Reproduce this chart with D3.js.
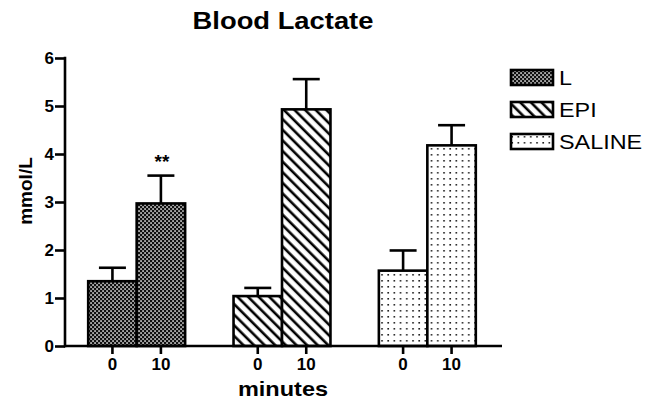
<!DOCTYPE html>
<html><head><meta charset="utf-8">
<script src="https://cdn.jsdelivr.net/npm/d3@7"></script>
<style>
body{margin:0;background:#fff;}
text{font-family:"Liberation Sans",Arial,sans-serif;fill:#000;}
</style></head>
<body>
<svg id="c" width="645" height="400"></svg>
<script>
const groups = ["L", "EPI", "SALINE"];
const times = ["0", "10"];
const means = {L: [1.35, 2.97], EPI: [1.04, 4.93], SALINE: [1.57, 4.18]};
const errs  = {L: [0.28, 0.58], EPI: [0.17, 0.63], SALINE: [0.42, 0.42]};
const yTicks = [0, 1, 2, 3, 4, 5, 6];
const sig = {group: "L", time: "10", label: "**"};

const svg = d3.select("#c");
const defs = svg.append("defs");

// patterns
const pL = defs.append("pattern").attr("id","pL").attr("patternUnits","userSpaceOnUse").attr("width",4).attr("height",4);
pL.append("rect").attr("width",4).attr("height",4).attr("fill","#111");
pL.append("rect").attr("x",0.3).attr("y",0.3).attr("width",1.5).attr("height",1.5).attr("fill","#fff");
pL.append("rect").attr("x",2.3).attr("y",2.3).attr("width",1.5).attr("height",1.5).attr("fill","#fff");

const pE = defs.append("pattern").attr("id","pEPI").attr("patternUnits","userSpaceOnUse").attr("width",7.5).attr("height",10).attr("patternTransform","rotate(-45)");
pE.append("rect").attr("width",7.5).attr("height",10).attr("fill","#fff");
pE.append("line").attr("x1",3).attr("x2",3).attr("y1",0).attr("y2",10).attr("stroke","#000").attr("stroke-width",2.6);

const pS = defs.append("pattern").attr("id","pSALINE").attr("patternUnits","userSpaceOnUse").attr("width",6.2).attr("height",6).attr("x",1).attr("y",2);
pS.append("rect").attr("width",6.2).attr("height",6).attr("fill","#fff");
pS.append("rect").attr("x",2).attr("y",2).attr("width",1.6).attr("height",1.6).attr("fill","#222");

const fillOf = {L:"url(#pL)", EPI:"url(#pEPI)", SALINE:"url(#pSALINE)"};

const y = d3.scaleLinear().domain([0, 6]).range([346, 58]);
const x0 = d3.scaleBand().domain(groups).range([64, 500]).paddingInner(0.333).paddingOuter(0.1665);
const x1 = d3.scaleBand().domain(times).range([0, x0.bandwidth()]);

// bars
const g = svg.append("g");
groups.forEach(gr => {
  times.forEach((t, i) => {
    const bx = x0(gr) + x1(t);
    const v = means[gr][i], e = errs[gr][i];
    const cx = bx + x1.bandwidth() / 2;
    g.append("line").attr("x1",cx).attr("x2",cx).attr("y1",y(v)).attr("y2",y(v+e)).attr("stroke","#000").attr("stroke-width",2.6);
    g.append("line").attr("x1",cx-13.5).attr("x2",cx+13.5).attr("y1",y(v+e)).attr("y2",y(v+e)).attr("stroke","#000").attr("stroke-width",2.6);
    g.append("rect").attr("x",bx).attr("y",y(v)).attr("width",x1.bandwidth()).attr("height",y(0)-y(v))
      .attr("fill",fillOf[gr]).attr("stroke","#000").attr("stroke-width",2.6);
    g.append("line").attr("x1",cx).attr("x2",cx).attr("y1",y(0)).attr("y2",y(0)+8).attr("stroke","#000").attr("stroke-width",2.6);
    g.append("text").attr("x",cx).attr("y",y(0)+24).attr("text-anchor","middle")
      .style("font-weight","bold").style("font-size","17px").text(t);
    if (gr === sig.group && t === sig.time) {
      g.append("text").attr("x",cx+1).attr("y",y(v+e)-8).attr("text-anchor","middle")
        .style("font-weight","bold").style("font-size","19px").text(sig.label);
    }
  });
});

// y axis
const yAxis = d3.axisLeft(y).tickValues(yTicks).tickSize(10).tickPadding(1).tickFormat(d3.format("d"));
const ya = svg.append("g").attr("transform","translate(65,0)").call(yAxis);
ya.select(".domain").remove();
ya.selectAll(".tick line").attr("stroke","#000").attr("stroke-width",2.6);
ya.selectAll(".tick text").style("font-size","17px").style("font-weight","bold").style("font-family","'Liberation Sans',Arial,sans-serif").attr("fill","#000");
svg.append("line").attr("x1",65).attr("x2",65).attr("y1",y(6)-1.3).attr("y2",y(0)+1.3).attr("stroke","#000").attr("stroke-width",2.6);
svg.append("line").attr("x1",64).attr("x2",502).attr("y1",y(0)).attr("y2",y(0)).attr("stroke","#000").attr("stroke-width",2.6);

// titles
svg.append("g").attr("transform","translate(283,29) scale(1.19,1)")
  .append("text").attr("text-anchor","middle").style("font-weight","bold").style("font-size","23px").text("Blood Lactate");
svg.append("g").attr("transform","translate(283,396) scale(1.12,1)")
  .append("text").attr("text-anchor","middle").style("font-weight","bold").style("font-size","21px").text("minutes");
svg.append("text").attr("transform","translate(32,191) rotate(-90)").attr("text-anchor","middle")
  .style("font-weight","bold").style("font-size","19px").text("mmol/L");

// legend
const leg = svg.append("g");
groups.forEach((gr, i) => {
  const ly = 70 + i * 32;
  leg.append("rect").attr("x",511).attr("y",ly).attr("width",42).attr("height",15)
    .attr("fill",fillOf[gr]).attr("stroke","#000").attr("stroke-width",2.6);
  leg.append("g").attr("transform",`translate(559,${ly+15}) scale(1.17,1)`)
    .append("text").style("font-size","20px").text(gr);
});
</script>
</body></html>
